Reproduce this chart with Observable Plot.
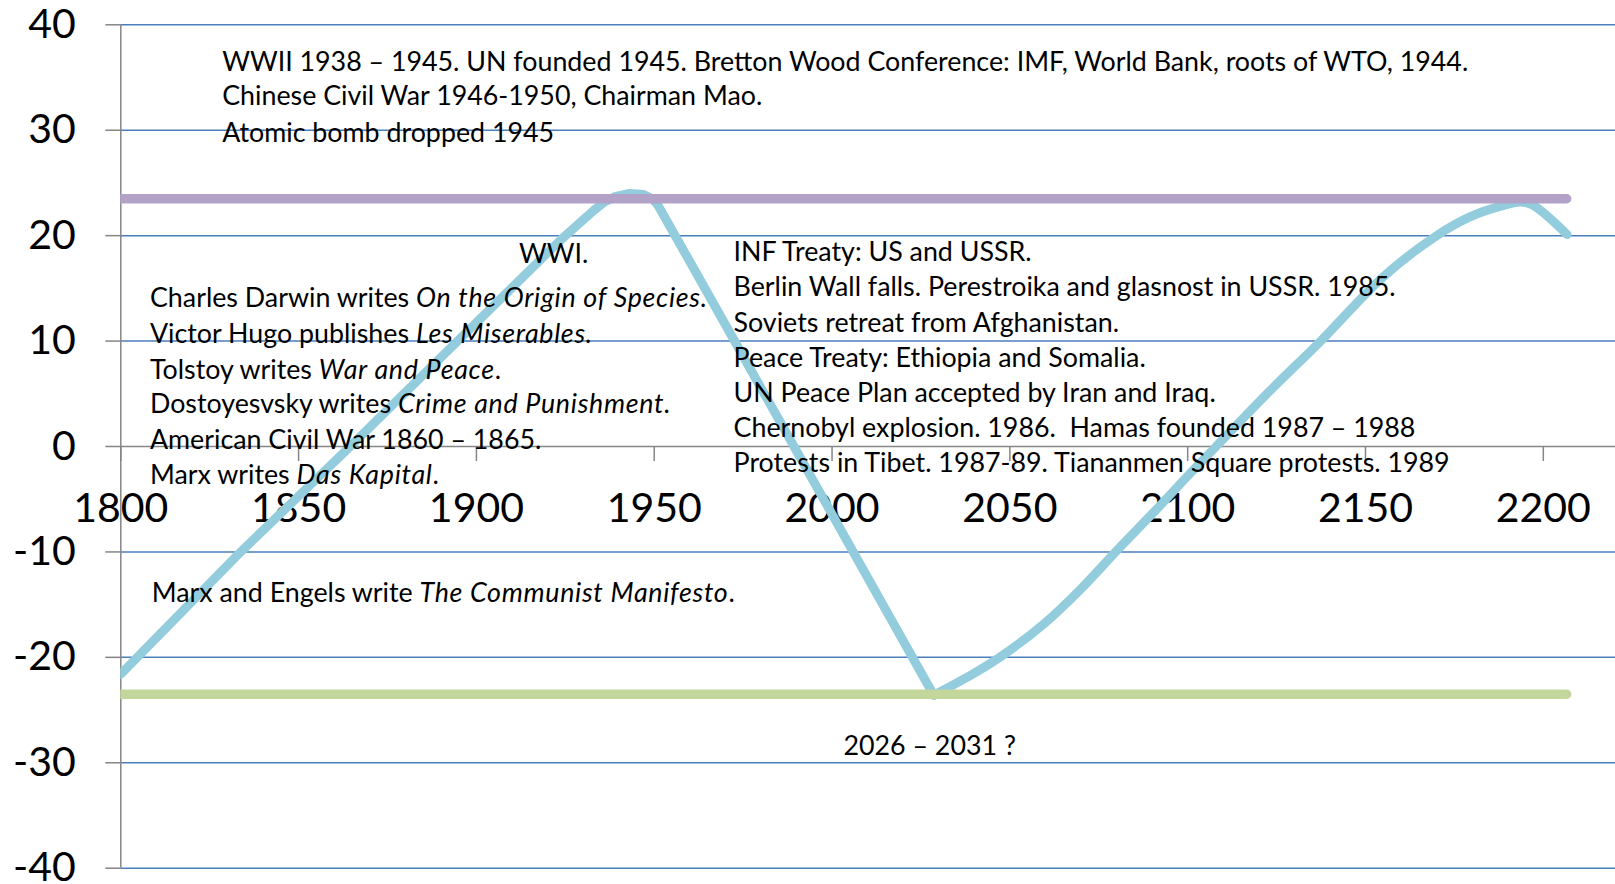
<!DOCTYPE html>
<html>
<head>
<meta charset="utf-8">
<script src="https://cdn.jsdelivr.net/npm/d3@7"></script>
<script src="https://cdn.jsdelivr.net/npm/@observablehq/plot@0.6"></script>
<style>
  html, body { margin: 0; padding: 0; background: #ffffff; }
  #chart svg text { white-space: pre; }
</style>
</head>
<body>
<div id="chart"></div>
<script>
// ---- data ----
const years  = [1800, 1833.7, 1864.5, 1923.7, 1933, 1936, 1939, 1943, 1947, 1949.5, 1951, 1959.4, 1989.3, 2028.6,
                2040, 2048, 2060, 2070, 2080, 2090, 2100, 2108, 2122, 2137.4, 2155, 2170, 2179.5, 2188, 2193.5, 2197, 2206.7];
const values = [-21.6, -10, 0, 19.6, 22.4, 23.2, 23.7, 24.0, 23.9, 23.5, 22.9, 17.9, 0, -23.6,
                -21.5, -19.8, -16.7, -13.5, -9.9, -6.4, -2.8, 0, 4.9, 10, 16.1, 20, 21.8, 22.8, 23.2, 22.9, 20.1];
const troughYear = 2028.6;

const upperLevel = 23.5;
const lowerLevel = -23.5;
const levelStart = 1800;
const levelEnd = 2206.7;

const xTicks = [1800, 1850, 1900, 1950, 2000, 2050, 2100, 2150, 2200];
const yTicks = [-40, -30, -20, -10, 0, 10, 20, 30, 40];
const xDomain = [1800, 2220.3];
const yDomain = [-40, 40];

// annotation texts (italic parts between underscores), anchored at (year, value)
const annoText = [
  "WWII 1938 – 1945. UN founded 1945. Bretton Wood Conference: IMF, World Bank, roots of WTO, 1944.",
  "Chinese Civil War 1946-1950, Chairman Mao.",
  "Atomic bomb dropped 1945",
  "WWI.",
  "INF Treaty: US and USSR.",
  "Berlin Wall falls. Perestroika and glasnost in USSR. 1985.",
  "Soviets retreat from Afghanistan.",
  "Peace Treaty: Ethiopia and Somalia.",
  "UN Peace Plan accepted by Iran and Iraq.",
  "Chernobyl explosion. 1986.  Hamas founded 1987 – 1988",
  "Protests in Tibet. 1987-89. Tiananmen Square protests. 1989",
  "Charles Darwin writes _On the Origin of Species._",
  "Victor Hugo publishes _Les Miserables._",
  "Tolstoy writes _War and Peace_.",
  "Dostoyesvsky writes _Crime and Punishment._",
  "American Civil War 1860 – 1865.",
  "Marx writes _Das Kapital_.",
  "Marx and Engels write _The Communist Manifesto_.",
  "2026 – 2031 ?"
];
const annoYear = [1828.5, 1828.5, 1828.5, 1912.0,
                  1972.3, 1972.3, 1972.3, 1972.3, 1972.3, 1972.3, 1972.3,
                  1808.2, 1808.2, 1808.2, 1808.2, 1808.2, 1808.2, 1808.7, 2003.2];
const annoValue = [36.44, 33.20, 29.72, 18.21,
                   18.40, 15.08, 11.67, 8.35, 5.03, 1.74, -1.58,
                   14.04, 10.67, 7.21, 3.98, 0.57, -2.75, -13.94, -28.41];

// ---- build tables ----
const series = years.map((yr, i) => ({year: yr, value: values[i]}));
const falling = series.filter(d => d.year <= troughYear);
const rising = series.filter(d => d.year >= troughYear);
const annotations = annoText.map((t, i) => ({text: t, year: annoYear[i], value: annoValue[i]}));

const grid = yTicks.filter(d => d !== 0);
const gray = "#868686";
const curveColor = "#93CDDD";
const font = "Lato, 'Open Sans', sans-serif";

const svg = Plot.plot({
  width: 1615,
  height: 884,
  marginLeft: 120.3,
  marginRight: 0,
  marginTop: 24.3,
  marginBottom: 16.3,
  style: {fontFamily: font, background: "#ffffff", color: "#000000"},
  x: {domain: xDomain, axis: null},
  y: {domain: yDomain, axis: null},
  marks: [
    // horizontal gridlines
    Plot.ruleY(grid, {stroke: "#4A7EBB", strokeWidth: 1.5}),
    // x axis line at zero and vertical axis line
    Plot.ruleY([0], {stroke: gray, strokeWidth: 1.5}),
    Plot.ruleX([1800], {stroke: gray, strokeWidth: 1.5}),
    // y tick marks
    Plot.ruleY(yTicks, {x1: 1800, x2: 1800, insetLeft: -15, stroke: gray, strokeWidth: 1.5}),
    // x tick marks
    Plot.ruleX(xTicks, {y1: 0, y2: 0, insetBottom: -15, stroke: gray, strokeWidth: 1.5}),
    // y tick labels
    Plot.axisY(yTicks, {tickSize: 0, tickPadding: 45, fontSize: 41, tickFormat: d => String(d), fill: "#000000", label: null}),
    // x tick labels
    Plot.text(xTicks, {x: d => d, y: 0, text: d => String(d), dy: 62, fontSize: 41, fill: "#000000"}),
    // cycle curve: straight rise and fall up to the trough, smooth recovery after it
    Plot.line(falling, {x: "year", y: "value", stroke: curveColor, strokeWidth: 9, strokeLinecap: "round", strokeLinejoin: "round", clip: true}),
    Plot.line(rising, {x: "year", y: "value", curve: "catmull-rom", stroke: curveColor, strokeWidth: 9, strokeLinecap: "round", strokeLinejoin: "round", clip: true}),
    // upper and lower levels
    Plot.ruleY([upperLevel], {x1: levelStart, x2: levelEnd, stroke: "#B3A2C7", strokeWidth: 9.5, strokeLinecap: "round", clip: true}),
    Plot.ruleY([lowerLevel], {x1: levelStart, x2: levelEnd, stroke: "#C3D69B", strokeWidth: 9.5, strokeLinecap: "round", clip: true}),
    // annotations
    Plot.text(annotations, {x: "year", y: "value", text: "text", textAnchor: "start", fontSize: 26.8, fill: "#000000"})
  ]
});

// italic segments
const NS = "http://www.w3.org/2000/svg";
d3.select(svg).selectAll("text").each(function () {
  const t = this.textContent;
  if (!t.includes("_")) return;
  const parts = t.split("_");
  this.textContent = "";
  parts.forEach((p, i) => {
    if (!p) return;
    const ts = document.createElementNS(NS, "tspan");
    ts.textContent = p;
    if (i % 2 === 1) {
      ts.setAttribute("font-style", "italic");
      ts.setAttribute("letter-spacing", "0.7");
    }
    this.appendChild(ts);
  });
});

document.getElementById("chart").appendChild(svg);
</script>
</body>
</html>
